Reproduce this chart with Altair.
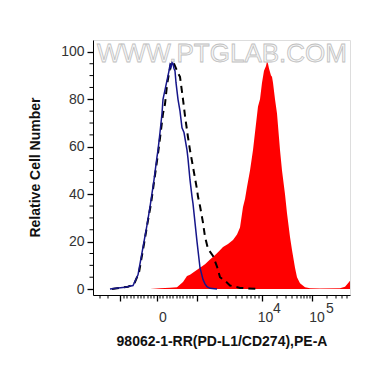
import altair as alt
import pandas as pd

# ---- data (x in display channel units across the plot, y = relative cell number) ----
red_x = [57, 67, 77, 84, 90, 94, 97, 102, 107, 112, 117, 120, 125, 130, 135, 140, 144, 147, 150, 152,
         154, 157, 160, 162, 165, 167, 169, 171, 173, 174, 175, 176, 178, 179, 180, 182, 184, 187, 189,
         192, 194, 197, 199, 202, 204, 207, 212, 217, 227, 247, 252, 255, 257]
red_y = [0, 0.3, 0.6, 0.8, 3, 5.5, 6, 7.5, 9, 10.5, 12.5, 13.5, 15.5, 17.7, 19, 20.7, 23, 26, 34.6, 38,
         43, 50, 58.6, 66, 77, 80, 87, 92, 94, 96, 95, 93, 90, 89.5, 87, 80, 74, 58.6, 50,
         40, 32, 22, 16.5, 9, 5, 2.5, 0.8, 0.3, 0.2, 0.3, 1, 2.5, 3.5]

iso_x = [19, 27, 35, 41, 46, 51, 55, 58, 62, 65, 68, 70, 72, 74, 76, 78, 80, 81, 83, 85, 87, 90, 92,
         95, 97, 100, 104, 105, 107, 110, 112, 115, 120, 124, 127, 132, 137, 147, 167]
iso_y = [0, 0.5, 1, 2, 7, 19, 29, 36, 48, 57, 67, 74, 78, 86, 91, 95, 96, 95, 93, 91, 89.5, 80, 73,
         64, 58.6, 51.5, 42, 39, 35, 28, 22, 17, 14, 9.5, 5, 3.5, 1.5, 0.5, 0]

blue_x = [17, 25, 32, 40, 45, 50, 54, 57, 61, 64, 65, 67, 69, 70, 72, 74, 76, 77, 78, 79, 80, 81, 82,
          83, 85, 87, 89, 91, 94, 95, 97, 99, 100, 102, 104, 107, 110, 112, 114, 117, 124]
blue_y = [0, 0.5, 0.8, 1.5, 6, 17.7, 27, 34.6, 46, 55.7, 58.6, 66, 74, 80, 84, 88, 92, 94.5, 93.5,
          95.4, 95, 93, 92, 87, 80, 75, 68, 66, 58.6, 55, 46, 39, 36, 28, 20, 9, 4, 2.2, 1, 0.3, 0]

y_major = [0, 20, 40, 60, 80, 100]
y_minor = [5, 10, 15, 25, 30, 35, 45, 50, 55, 65, 70, 75, 85, 90, 95]
x_major = [27, 64, 104, 169, 219]
x_minor = [7, 15, 31, 34, 38, 41, 45, 48, 51, 55, 58, 61, 67, 70, 74, 77, 80, 84, 87, 90, 94, 97, 100,
           114, 124, 135, 143, 149, 154, 158, 162, 166, 184, 193, 199, 204, 208, 211, 214, 217,
           234, 243, 249, 254]
x_label_text = ["0", "10", "10"]
x_label_pos = [70, 172.5, 224]
x_sup_text = ["4", "5"]
x_sup_pos = [184, 237]

W, H = 257, 255
XDOM = [0, 257]
YDOM = [-2.5, 105]

xs = alt.Scale(domain=XDOM, nice=False, zero=False)
ys = alt.Scale(domain=YDOM, nice=False, zero=False)

red_df = pd.DataFrame({"x": red_x, "y": red_y})
iso_df = pd.DataFrame({"x": iso_x, "y": iso_y})
blue_df = pd.DataFrame({"x": blue_x, "y": blue_y})

red = alt.Chart(red_df).mark_area(color="#ff0000", clip=True).encode(
    x=alt.X("x:Q", scale=xs,
            axis=alt.Axis(values=x_major, labels=False, tickSize=6, grid=False,
                          title="98062-1-RR(PD-L1/CD274),PE-A", titleFontSize=14,
                          titleFontWeight="bold", titleFont="Liberation Sans", titleColor="#111",
                          titleX=128.5, titleY=46, titleBaseline="middle", titleAnchor="middle",
                          domainColor="#000", tickColor="#000", tickWidth=1.3)),
    y=alt.Y("y:Q", scale=ys,
            axis=alt.Axis(values=y_major, tickSize=6, grid=False, labelFontSize=14,
                          labelFont="Liberation Sans", labelColor="#333", labelPadding=3,
                          title="Relative Cell Number", titleFontSize=14, titleFontWeight="bold",
                          titleFont="Liberation Sans", titleColor="#111",
                          titleX=-58, titleY=127, titleAngle=270, titleBaseline="middle",
                          domainColor="#000", tickColor="#000", tickWidth=1.3)),
    y2=alt.value(H),
)

iso = alt.Chart(iso_df).mark_line(color="#000000", strokeWidth=2, strokeDash=[7, 5], clip=True).encode(
    x=alt.X("x:Q", scale=xs), y=alt.Y("y:Q", scale=ys))

blue = alt.Chart(blue_df).mark_line(color="#16168a", strokeWidth=1.5, clip=True).encode(
    x=alt.X("x:Q", scale=xs), y=alt.Y("y:Q", scale=ys))

ymin_df = pd.DataFrame({"v": y_minor})
ymin = alt.Chart(ymin_df).mark_rule(color="#000", strokeWidth=1).encode(
    y=alt.Y("v:Q", scale=ys), x=alt.value(-3.5), x2=alt.value(0))

xmin_df = pd.DataFrame({"v": x_minor})
xmin = alt.Chart(xmin_df).mark_rule(color="#000", strokeWidth=1).encode(
    x=alt.X("v:Q", scale=xs), y=alt.value(H), y2=alt.value(H + 3.5))

lab_df = pd.DataFrame({"t": x_label_text, "p": x_label_pos})
labs = alt.Chart(lab_df).mark_text(fontSize=14, font="Liberation Sans", color="#333",
                                   baseline="middle", align="center").encode(
    x=alt.X("p:Q", scale=xs), y=alt.value(H + 23), text="t:N")

sup_df = pd.DataFrame({"t": x_sup_text, "p": x_sup_pos})
sups = alt.Chart(sup_df).mark_text(fontSize=14, font="Liberation Sans", color="#333",
                                   baseline="middle", align="center").encode(
    x=alt.X("p:Q", scale=xs), y=alt.value(H + 14), text="t:N")

wm = alt.Chart(pd.DataFrame({"t": ["WWW.PTGLAB.COM"]})).mark_text(
    fontSize=26, font="Liberation Sans", fill="#f6f6f6", stroke="#c0c0c0", strokeWidth=0.8,
    baseline="middle", align="center").encode(
    x=alt.value(129), y=alt.value(14), text="t:N")

chart = alt.layer(red, wm, iso, blue, ymin, xmin, labs, sups).properties(
    width=W, height=H,
    autosize=alt.AutoSizeParams(type="none"),
    padding={"left": 85, "top": 32, "right": 12, "bottom": 60},
).configure_view(stroke="#000", strokeWidth=1.3).configure(background="white")

chart.save("out.html", embed_options={"renderer": "svg", "actions": False})
